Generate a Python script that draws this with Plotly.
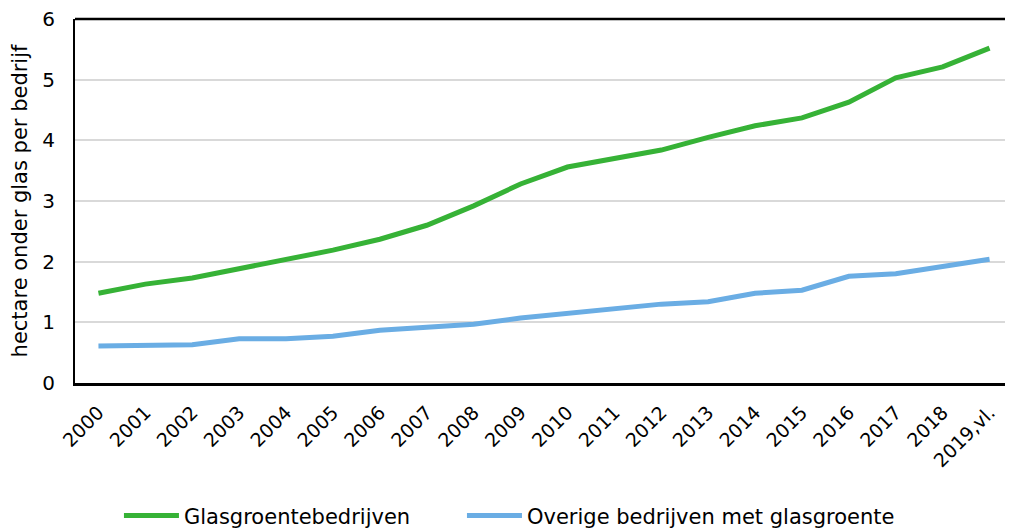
import plotly.graph_objects as go

years = ["2000", "2001", "2002", "2003", "2004", "2005", "2006", "2007", "2008", "2009",
         "2010", "2011", "2012", "2013", "2014", "2015", "2016", "2017", "2018", "2019,vl."]
glasgroente = [1.48, 1.63, 1.73, 1.88, 2.04, 2.19, 2.37, 2.60, 2.92, 3.28,
               3.56, 3.69, 3.84, 4.05, 4.24, 4.37, 4.63, 5.03, 5.21, 5.52]
overige = [0.61, 0.61, 0.63, 0.73, 0.73, 0.77, 0.87, 0.92, 0.97, 1.07,
           1.14, 1.22, 1.30, 1.34, 1.48, 1.53, 1.76, 1.80, 1.93, 2.04]

font = "DejaVu Sans, Verdana, sans-serif"

fig = go.Figure()
fig.add_trace(go.Scatter(x=years, y=glasgroente, mode="lines", name="Glasgroentebedrijven",
                         line=dict(color="#36b236", width=5), legend="legend"))
fig.add_trace(go.Scatter(x=years, y=overige, mode="lines", name="Overige bedrijven met glasgroente",
                         line=dict(color="#6aade4", width=5), legend="legend2"))

legend_common = dict(orientation="h", xanchor="left", xref="container", yref="container",
                     y=0.027, yanchor="middle", font=dict(size=21), itemwidth=55,
                     bgcolor="rgba(0,0,0,0)")

# page body has an 8px default margin, so the figure is 8px smaller than the window
fig.update_layout(
    width=1005, height=522,
    margin=dict(l=67, r=0, t=11, b=147),
    paper_bgcolor="white", plot_bgcolor="white",
    font=dict(family=font, size=19, color="black"),
    showlegend=True,
    legend=dict(legend_common, x=0.1104),
    legend2=dict(legend_common, x=0.4517),
    xaxis=dict(type="category", range=[-0.5, 19.5], tickangle=-45, automargin=False,
               showline=True, linecolor="black", linewidth=3,
               showgrid=False, ticks="", tickfont=dict(size=19), ticklabelstandoff=8,
               ticklabeloverflow="allow"),
    yaxis=dict(range=[0, 6], dtick=1, showline=True, linecolor="black", linewidth=2,
               showgrid=True, gridcolor="#d9d9d9", gridwidth=2, zeroline=False,
               automargin=False, ticks="", tickfont=dict(size=20), ticklabelstandoff=14,
               ticklabeloverflow="allow",
               title=dict(text="hectare onder glas per bedrijf", font=dict(size=21), standoff=10)),
    shapes=[dict(type="line", xref="paper", yref="paper", x0=0, x1=1, y0=1, y1=1,
                 line=dict(color="black", width=2.5))],
)

fig.write_html("out.html")
